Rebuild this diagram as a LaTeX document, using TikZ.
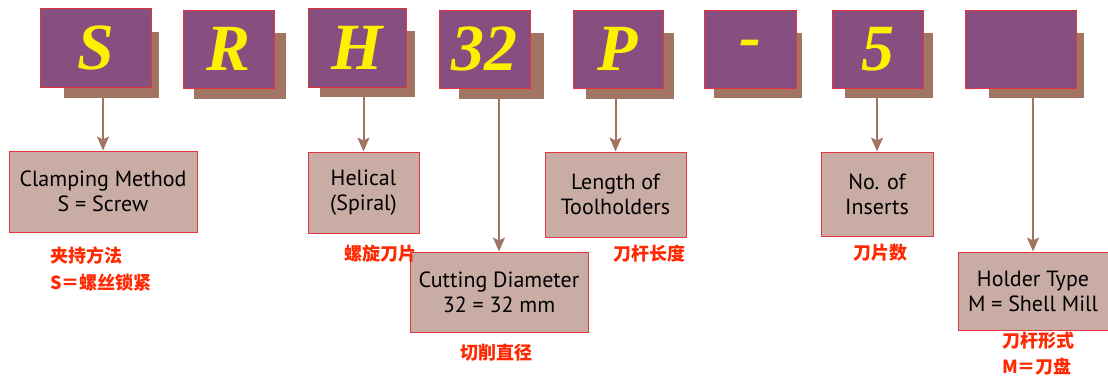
\documentclass[tikz,border=0pt]{standalone}
\usepackage{fontspec}
\setmainfont{PT Sans}
\newfontfamily\letterfont{Liberation Serif}
\newfontfamily\cjk{Noto Sans CJK SC}
\usepackage{xcolor}
\usepackage{tikz}
\usetikzlibrary{arrows.meta,positioning}
\definecolor{boxpurple}{RGB}{135,79,128}
\definecolor{boxred}{RGB}{228,52,62}
\definecolor{shadebrown}{RGB}{161,116,99}
\definecolor{notepink}{RGB}{201,173,165}
\definecolor{notered}{RGB}{255,40,0}
\definecolor{letteryellow}{RGB}{255,240,0}

\begin{document}
\begin{tikzpicture}[x=1pt,y=-1pt,
	code/.style={draw=boxred,line width=1pt,fill=boxpurple,inner sep=0pt,text=letteryellow,
		font=\letterfont\bfseries\itshape\fontsize{66}{66}\selectfont},
	backshade/.style={fill=shadebrown,inner sep=0pt},
	note/.style={draw=boxred,line width=1pt,fill=notepink,inner sep=0pt,align=center,
		text=black,font=\fontsize{22}{25}\selectfont},
	cn/.style={text=notered,inner sep=0pt,anchor=west,align=left,
		font=\cjk\bfseries\fontsize{18}{27}\selectfont},
	link/.style={draw=shadebrown,line width=2pt,-{Stealth[length=14pt,width=12pt,inset=3pt]}}]
		\useasboundingbox (0,0) rectangle (1108,376);
		%阴影
		\node[backshade,minimum width=95pt,minimum height=66pt] (Ssh) at (111.5,65) {};
		\node[backshade,minimum width=92pt,minimum height=66pt] (Rsh) at (240,66) {};
		\node[backshade,minimum width=95pt,minimum height=66pt] (Hsh) at (367.5,64) {};
		\node[backshade,minimum width=85pt,minimum height=66pt] (Dsh) at (501.5,66) {};
		\node[backshade,minimum width=88pt,minimum height=66pt] (Psh) at (630,66) {};
		\node[backshade,minimum width=88pt,minimum height=65pt] (Msh) at (758,65.5) {};
		\node[backshade,minimum width=88pt,minimum height=65pt] (Nsh) at (889,65.5) {};
		\node[backshade,minimum width=95pt,minimum height=65pt] (Tsh) at (1036.5,65.5) {};
		%代码字母
		\node[code,minimum width=111pt,minimum height=79pt] (S) at (95.5,47.5) {S};
		\node[code,minimum width=91pt,minimum height=78pt] (R) at (228.5,49) {R};
		\node[code,minimum width=98pt,minimum height=79pt] (H) at (357,47.5) {H};
		\node[code,minimum width=91pt,minimum height=78pt] (D) at (484.5,49) {32};
		\node[code,minimum width=90pt,minimum height=78pt] (P) at (618,49) {P};
		\node[code,minimum width=92pt,minimum height=78pt] (M) at (750,49) {-};
		\node[code,minimum width=91pt,minimum height=78pt] (N) at (877.5,49) {5};
		\node[code,minimum width=111pt,minimum height=78pt] (T) at (1020.5,49) {};
		%说明框
		\node[note,minimum width=188pt,minimum height=81pt] (clamp) at (103,191.5) {Clamping Method\\S = Screw};
		\node[note,minimum width=111pt,minimum height=81pt] (helix) at (363.5,192.5) {Helical\\(Spiral)};
		\node[note,minimum width=178pt,minimum height=80pt] (diam) at (499,292) {Cutting Diameter\\32 = 32 mm};
		\node[note,minimum width=141pt,minimum height=85pt] (length) at (615.5,194.5) {Length of\\Toolholders};
		\node[note,minimum width=112pt,minimum height=84pt] (inserts) at (877,194) {No. of\\Inserts};
		\node[note,minimum width=150pt,minimum height=78pt] (holder) at (1033,291) {Holder Type\\M = Shell Mill};
		%箭头
		\draw[link] (Ssh.south -| clamp.north) -- (clamp.north);
		\draw[link] (Hsh.south -| helix.north) -- (helix.north);
		\draw[link] (Dsh.south -| diam.north) -- (diam.north);
		\draw[link] (Psh.south -| length.north) -- (length.north);
		\draw[link] (Nsh.south -| inserts.north) -- (inserts.north);
		\draw[link] (Tsh.south -| holder.north) -- (holder.north);
		%中文
		\node[cn] (clampcn) at (50,269.5) {夹持方法\\S＝螺丝锁紧};
		\node[cn] (helixcn) at (344,254) {螺旋刀片};
		\node[cn] (diamcn) at (460,353) {切削直径};
		\node[cn] (lengthcn) at (613,254) {刀杆长度};
		\node[cn] (insertscn) at (853,253) {刀片数};
		\node[cn,font=\cjk\bfseries\fontsize{18}{26}\selectfont] (holdercn) at (1002,354) {刀杆形式\\M＝刀盘};
	\end{tikzpicture}
\end{document}
